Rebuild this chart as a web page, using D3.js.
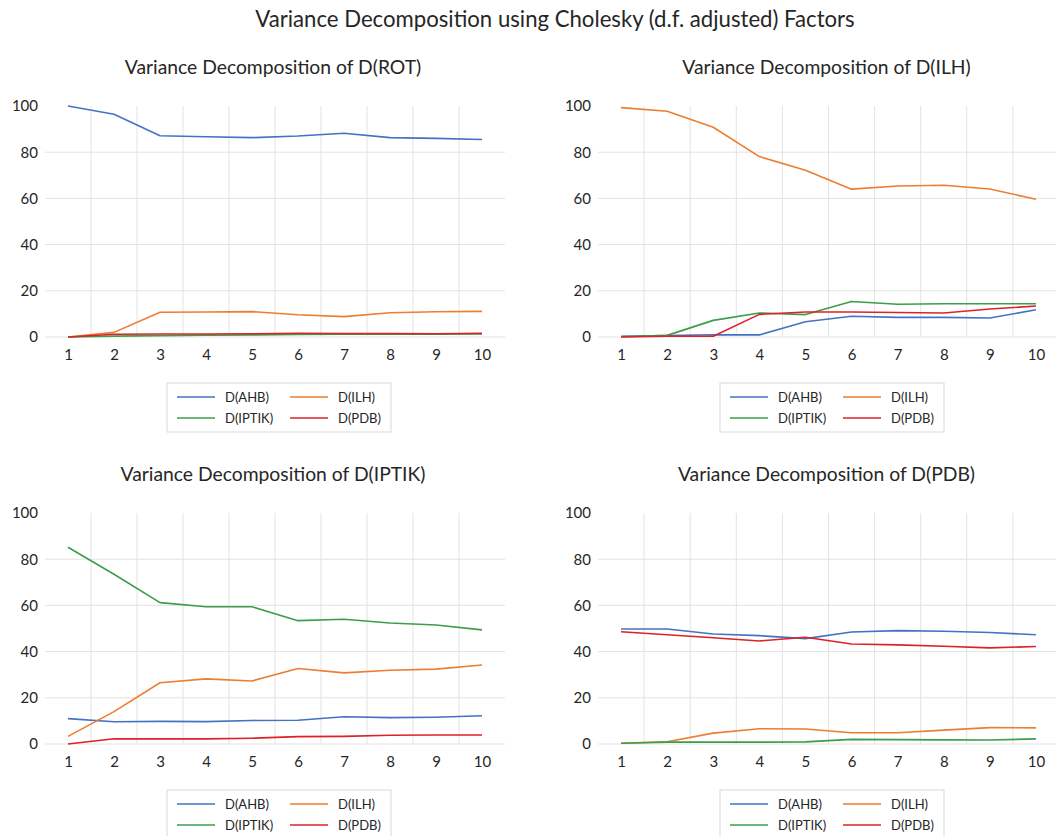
<!DOCTYPE html>
<html>
<head>
<meta charset="utf-8">
<script src="https://cdn.jsdelivr.net/npm/d3@7"></script>
<style>
  html, body { margin: 0; padding: 0; background: #fff; }
  svg { display: block; font-family: Lato, "Open Sans", sans-serif; }
</style>
</head>
<body>
<svg id="chart" width="1056" height="836"></svg>
<script>
// ---------- data ----------
const periods = [1, 2, 3, 4, 5, 6, 7, 8, 9, 10];
const seriesNames = ["D(AHB)", "D(ILH)", "D(IPTIK)", "D(PDB)"];
const yTicks = [0, 20, 40, 60, 80, 100];
const mainTitle = "Variance Decomposition using Cholesky (d.f. adjusted) Factors";
const panelTitles = [
  "Variance Decomposition of D(ROT)",
  "Variance Decomposition of D(ILH)",
  "Variance Decomposition of D(IPTIK)",
  "Variance Decomposition of D(PDB)"
];

// Variance decomposition of D(ROT)
const rotAHB   = [100.0, 96.4, 87.1, 86.7, 86.3, 87.0, 88.2, 86.3, 86.0, 85.5];
const rotILH   = [0.0, 2.0, 10.7, 10.8, 11.0, 9.6, 8.8, 10.5, 10.9, 11.1];
const rotIPTIK = [0.0, 0.4, 0.6, 0.8, 0.9, 1.1, 1.2, 1.2, 1.2, 1.3];
const rotPDB   = [0.0, 1.2, 1.3, 1.3, 1.4, 1.6, 1.5, 1.5, 1.4, 1.6];

// Variance decomposition of D(ILH)
const ilhAHB   = [0.3, 0.6, 1.0, 0.9, 6.6, 9.0, 8.5, 8.5, 8.2, 11.8];
const ilhILH   = [99.3, 97.7, 90.8, 78.1, 72.2, 64.0, 65.4, 65.7, 64.1, 59.6];
const ilhIPTIK = [0.1, 0.7, 7.2, 10.4, 9.7, 15.4, 14.2, 14.4, 14.4, 14.4];
const ilhPDB   = [0.0, 0.3, 0.3, 9.8, 10.8, 10.8, 10.6, 10.4, 12.1, 13.4];

// Variance decomposition of D(IPTIK)
const iptikAHB   = [11.0, 9.6, 9.8, 9.7, 10.2, 10.3, 11.8, 11.4, 11.6, 12.2];
const iptikILH   = [3.3, 14.0, 26.5, 28.2, 27.3, 32.7, 30.8, 31.9, 32.4, 34.2];
const iptikIPTIK = [85.2, 73.5, 61.2, 59.4, 59.4, 53.4, 54.0, 52.4, 51.5, 49.4];
const iptikPDB   = [0.0, 2.3, 2.2, 2.2, 2.5, 3.2, 3.3, 3.8, 3.9, 3.9];

// Variance decomposition of D(PDB)
const pdbAHB   = [49.8, 49.8, 47.6, 46.9, 45.6, 48.5, 49.1, 48.8, 48.3, 47.3];
const pdbILH   = [0.3, 1.0, 4.7, 6.6, 6.5, 4.9, 4.9, 6.0, 7.1, 7.0];
const pdbIPTIK = [0.3, 0.8, 0.8, 0.8, 0.9, 2.0, 1.9, 1.8, 1.7, 2.2];
const pdbPDB   = [48.6, 47.3, 46.0, 44.6, 46.2, 43.3, 42.9, 42.3, 41.6, 42.2];

const colors = ["#4472C4", "#ED7D31", "#3C9D4B", "#DD2128"];

// ---------- layout ----------
const panels = [
  { title: panelTitles[0], series: [rotAHB, rotILH, rotIPTIK, rotPDB],         left: 45,  right: 505,  top: 106, bottom: 337, titleY: 66 },
  { title: panelTitles[1], series: [ilhAHB, ilhILH, ilhIPTIK, ilhPDB],         left: 598, right: 1059, top: 106, bottom: 337, titleY: 66 },
  { title: panelTitles[2], series: [iptikAHB, iptikILH, iptikIPTIK, iptikPDB], left: 45,  right: 505,  top: 513, bottom: 744, titleY: 473 },
  { title: panelTitles[3], series: [pdbAHB, pdbILH, pdbIPTIK, pdbPDB],         left: 598, right: 1059, top: 513, bottom: 744, titleY: 473 }
];

const svg = d3.select("#chart");
const textColor = "#262626";
const gridColor = "#e3e3e3";

// fit a font size so that the given text has the given width
function fitSize(text, width) {
  const t = svg.append("text").attr("font-size", 100).text(text);
  const w = t.node().getComputedTextLength();
  t.remove();
  return 100 * width / w;
}

const mainSize = fitSize(mainTitle, 600);
const subSize = fitSize(panelTitles[2], 305);

svg.append("text")
  .attr("x", 555).attr("y", 18)
  .attr("text-anchor", "middle").attr("dominant-baseline", "central")
  .attr("font-size", mainSize).attr("fill", textColor)
  .text(mainTitle);

panels.forEach(p => {
  const g = svg.append("g");
  const x = d3.scaleBand().domain(periods).range([p.left, p.right]);
  const cx = d => x(d) + x.bandwidth() / 2;
  const y = d3.scaleLinear().domain([0, 100]).range([p.bottom, p.top]);

  // title
  g.append("text")
    .attr("x", (p.left + p.right) / 2 - 2).attr("y", p.titleY)
    .attr("text-anchor", "middle").attr("dominant-baseline", "central")
    .attr("font-size", subSize).attr("fill", textColor)
    .text(p.title);

  // horizontal gridlines
  g.selectAll(".hg").data(yTicks.filter(t => t < 100)).join("line")
    .attr("x1", p.left).attr("x2", p.right)
    .attr("y1", d => y(d)).attr("y2", d => y(d))
    .attr("stroke", gridColor).attr("stroke-width", 1);

  // vertical gridlines at category boundaries
  g.selectAll(".vg").data(periods.slice(1)).join("line")
    .attr("x1", d => x(d)).attr("x2", d => x(d))
    .attr("y1", y(100)).attr("y2", y(0))
    .attr("stroke", gridColor).attr("stroke-width", 1);

  // axes
  const ya = g.append("g").attr("transform", `translate(${p.left},0)`)
    .call(d3.axisLeft(y).tickValues(yTicks).tickSize(0).tickPadding(7));
  ya.select(".domain").remove();
  ya.selectAll("text").attr("font-size", 15).attr("font-family", "Lato").attr("fill", textColor);

  const xp = d3.scalePoint().domain(periods).range([cx(1), cx(10)]);
  const xa = g.append("g").attr("transform", `translate(0,${p.bottom})`)
    .call(d3.axisBottom(xp).tickSize(0).tickPadding(12));
  xa.select(".domain").remove();
  xa.selectAll("text").attr("font-size", 15).attr("font-family", "Lato").attr("fill", textColor);

  // lines
  const line = d3.line().x((d, i) => cx(periods[i])).y(d => y(d));
  p.series.forEach((s, i) => {
    g.append("path").datum(s)
      .attr("d", line)
      .attr("fill", "none")
      .attr("stroke", colors[i])
      .attr("stroke-width", 1.6)
      .attr("stroke-linejoin", "round");
  });

  // legend
  const bx = p.left + 122, by = p.bottom + 46;
  g.append("rect")
    .attr("x", bx).attr("y", by).attr("width", 224).attr("height", 49)
    .attr("fill", "#fff").attr("stroke", "#d9d9d9").attr("stroke-width", 1);
  seriesNames.forEach((name, i) => {
    const col = i % 2, row = Math.floor(i / 2);
    const lx = bx + (col === 0 ? 10 : 123);
    const ly = by + (row === 0 ? 14 : 35);
    g.append("line")
      .attr("x1", lx).attr("x2", lx + 38).attr("y1", ly).attr("y2", ly)
      .attr("stroke", colors[i]).attr("stroke-width", 1.6);
    g.append("text")
      .attr("x", lx + 48).attr("y", ly)
      .attr("dominant-baseline", "central")
      .attr("font-size", 13).attr("fill", textColor)
      .text(name);
  });
});
</script>
</body>
</html>
